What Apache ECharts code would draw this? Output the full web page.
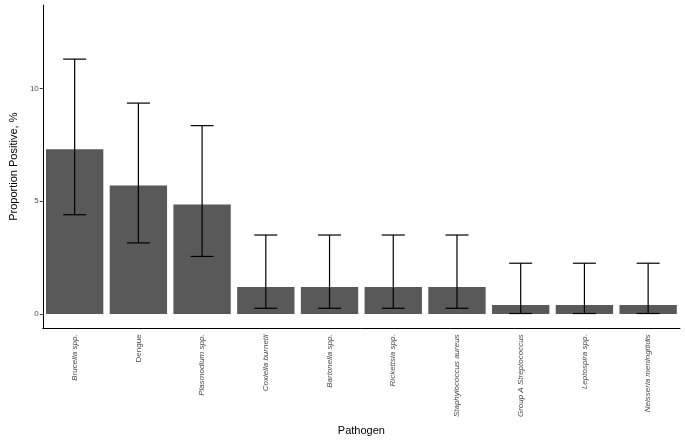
<!DOCTYPE html>
<html>
<head>
<meta charset="utf-8">
<script src="https://cdn.jsdelivr.net/npm/echarts@6/dist/echarts.min.js"></script>
<style>html,body{margin:0;padding:0;background:#fff}</style>
</head>
<body>
<div id="main" style="width:685px;height:441px"></div>
<script>
var pathogens = ['Brucella spp.', 'Dengue', 'Plasmodium spp.', 'Coxiella burnetii', 'Bartonella spp.',
  'Rickettsia spp.', 'Staphylococcus aureus', 'Group A Streptococcus', 'Leptospira spp.', 'Neisseria meningitidis'];
var proportion = [7.3, 5.7, 4.85, 1.2, 1.2, 1.2, 1.2, 0.4, 0.4, 0.4];
var lower = [4.4, 3.15, 2.55, 0.25, 0.25, 0.25, 0.25, 0.02, 0.02, 0.02];
var upper = [11.3, 9.35, 8.35, 3.5, 3.5, 3.5, 3.5, 2.25, 2.25, 2.25];
var yTicks = [0, 5, 10];

var errData = pathogens.map(function (p, i) { return [i, lower[i], upper[i]]; });

var myChart = echarts.init(document.getElementById('main'));
myChart.setOption({
  animation: false,
  grid: { left: 30, right: 5, top: 5, bottom: 101 },
  xAxis: {
    type: 'category',
    data: pathogens,
    name: 'Pathogen',
    nameLocation: 'middle',
    nameGap: 91,
    nameTextStyle: { fontSize: 11, color: '#000' },
    axisLine: { onZero: false, lineStyle: { color: '#000', width: 1 } },
    axisTick: { alignWithLabel: true, length: 3, lineStyle: { color: '#333' } },
    axisLabel: {
      rotate: 90, fontSize: 8, color: '#4d4d4d', margin: 6,
      fontStyle: 'italic',
      formatter: function (v) { return v === 'Dengue' ? '{n|' + v + '}' : v; },
      rich: { n: { fontStyle: 'normal', fontSize: 8, color: '#4d4d4d' } }
    }
  },
  yAxis: {
    type: 'value',
    min: -0.64, max: 13.7,
    name: 'Proportion Positive, %',
    nameLocation: 'middle',
    nameGap: 18,
    nameTextStyle: { fontSize: 11, color: '#000' },
    axisLine: { show: true, lineStyle: { color: '#000', width: 1 } },
    axisTick: { show: true, length: 3, customValues: yTicks, lineStyle: { color: '#333' } },
    axisLabel: { fontSize: 8, color: '#4d4d4d', margin: 4, customValues: yTicks },
    splitLine: { show: false }
  },
  series: [
    {
      type: 'bar',
      data: proportion,
      barCategoryGap: '10%',
      itemStyle: { color: '#595959' }
    },
    {
      type: 'custom',
      data: errData,
      renderItem: function (params, api) {
        var x = api.value(0);
        var lo = api.coord([x, api.value(1)]);
        var hi = api.coord([x, api.value(2)]);
        var half = 11.5;
        var st = { stroke: '#000', lineWidth: 1.2 };
        return {
          type: 'group',
          children: [
            { type: 'line', shape: { x1: hi[0], y1: hi[1], x2: lo[0], y2: lo[1] }, style: st },
            { type: 'line', shape: { x1: hi[0] - half, y1: hi[1], x2: hi[0] + half, y2: hi[1] }, style: st },
            { type: 'line', shape: { x1: lo[0] - half, y1: lo[1], x2: lo[0] + half, y2: lo[1] }, style: st }
          ]
        };
      },
      z: 10
    }
  ]
});
</script>
</body>
</html>
